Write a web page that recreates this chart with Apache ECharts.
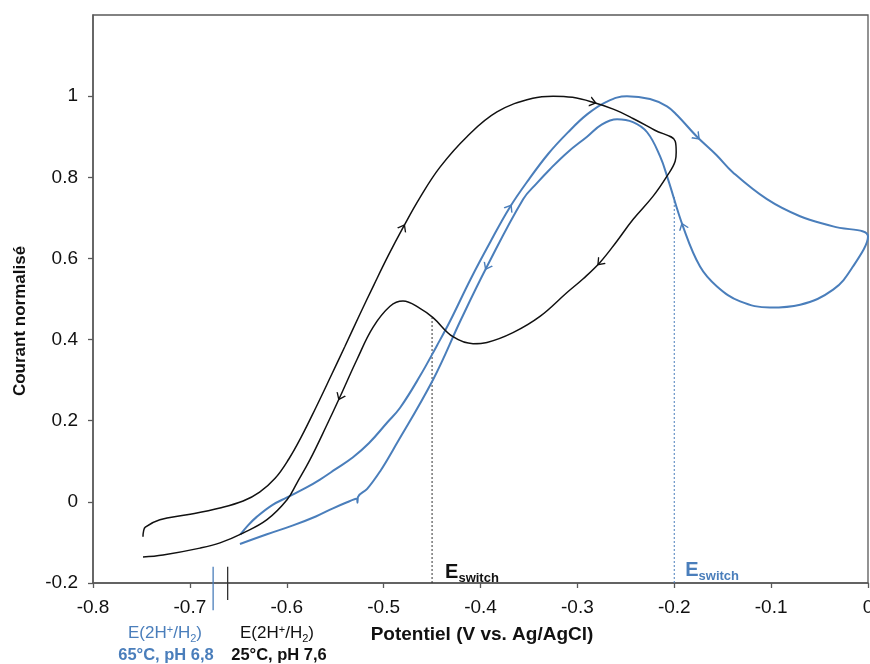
<!DOCTYPE html>
<html><head><meta charset="utf-8">
<script src="https://cdn.jsdelivr.net/npm/echarts@6/dist/echarts.min.js"></script>
<style>html,body{margin:0;padding:0;background:#fff;overflow:hidden}#c{width:870px;height:664px}</style>
</head><body><div id="c"></div>
<script>
// ---- data ----
const blackPotential = [-0.7484,-0.7478,-0.746,-0.731,-0.703,-0.669,-0.645,-0.628,-0.612,-0.598,-0.585,-0.57,-0.555,-0.54,-0.525,-0.51,-0.495,-0.48,-0.4625,-0.4418,-0.414,-0.383,-0.346,-0.325,-0.305,-0.284,-0.263,-0.2426,-0.22,-0.199,
  -0.198,-0.199,-0.2075,-0.222,-0.2426,-0.26,-0.2767,-0.294,-0.3107,-0.3386,-0.3665,-0.3933,-0.4077,-0.4284,-0.449,-0.4625,-0.48,-0.4934,-0.511,-0.5275,-0.545,-0.5585,-0.576,-0.5894,-0.5997,-0.6204,-0.6452,-0.6689,-0.6896,-0.7277,-0.7484];
const blackCurrent = [-0.086,-0.072,-0.062,-0.044,-0.032,-0.015,0.002,0.024,0.058,0.105,0.16,0.232,0.307,0.383,0.46,0.535,0.608,0.676,0.75,0.825,0.9,0.961,0.995,1.0,0.997,0.985,0.968,0.945,0.916,0.889,
  0.862,0.84,0.803,0.753,0.696,0.64,0.59,0.55,0.516,0.457,0.417,0.393,0.39,0.407,0.454,0.477,0.495,0.482,0.43,0.351,0.259,0.19,0.104,0.047,0.005,-0.044,-0.077,-0.101,-0.114,-0.131,-0.136];
const bluePotential = [-0.648,-0.64,-0.631,-0.615,-0.5997,-0.58,-0.5657,-0.55,-0.5316,-0.515,-0.4965,-0.483,-0.4625,-0.445,-0.4315,-0.41,-0.39,-0.37,-0.35,-0.33,-0.31,-0.29,-0.27,-0.2488,-0.225,-0.2075,-0.197,-0.1765,-0.1565,-0.1394,-0.1043,-0.0702,-0.036,0,
  -0.0155,-0.036,-0.07,-0.1012,-0.132,-0.1559,-0.1734,-0.191,-0.2064,-0.2147,-0.228,-0.2426,-0.259,-0.275,-0.29,-0.31,-0.3283,-0.342,-0.356,-0.3933,-0.42,-0.449,-0.4903,-0.5037,-0.517,-0.5265,-0.527,-0.5275,-0.5378,-0.5523,-0.57,-0.5935,-0.6204,-0.6483];
const blueCurrent = [-0.081,-0.058,-0.037,-0.008,0.011,0.035,0.055,0.08,0.11,0.145,0.195,0.232,0.31,0.385,0.445,0.55,0.64,0.725,0.795,0.858,0.91,0.955,0.986,1.0,0.993,0.975,0.953,0.9,0.855,0.812,0.746,0.704,0.679,0.654,
  0.58,0.523,0.486,0.479,0.494,0.531,0.58,0.679,0.795,0.852,0.911,0.936,0.943,0.93,0.9,0.862,0.82,0.785,0.746,0.58,0.45,0.301,0.128,0.075,0.032,0.012,-0.002,0.008,-0.001,-0.016,-0.036,-0.058,-0.08,-0.104];
const blackArrowIdx = [17, 25, 36, 50];
const blueArrowIdx = [17, 27, 41, 53];
const switchBlack = [-0.45, 0.454];   // potential, current where it meets the curve
const switchBlue = [-0.2, 0.755];
const refBlue = [-0.676, -0.16, -0.267];   // E(2H+/H2) 65°C marker
const refBlack = [-0.661, -0.16, -0.242];  // E(2H+/H2) 25°C marker

const BLUE = '#4a7ebb', BLACK = '#111111', AXIS = '#595959';
const FONT = '"Liberation Sans", Arial, sans-serif';

function pairs(xs, ys) { return xs.map((x, i) => [x, ys[i]]); }

const chart = echarts.init(document.getElementById('c'), null, {renderer: 'canvas'});

const baseOption = {
  animation: false,
  backgroundColor: '#fff',
  grid: {left: 93, right: 2, top: 15, bottom: 81, show: true, borderColor: AXIS, borderWidth: 1.3,
         containLabel: false, outerBoundsMode: 'none'},
  xAxis: {
    type: 'value', min: -0.8, max: 0, interval: 0.1,
    axisLine: {show: true, onZero: false, lineStyle: {color: AXIS, width: 1.5}},
    axisTick: {show: true, inside: false, length: 5, lineStyle: {color: AXIS, width: 1.3}},
    axisLabel: {color: '#111', fontSize: 19, fontFamily: FONT, margin: 15, hideOverlap: false},
    splitLine: {show: false}
  },
  yAxis: {
    type: 'value', min: -0.2, max: 1.2, interval: 0.2,
    axisLine: {show: true, onZero: false, lineStyle: {color: AXIS, width: 1.5}},
    axisTick: {show: true, inside: false, length: 5, lineStyle: {color: AXIS, width: 1.3}},
    axisLabel: {color: '#111', fontSize: 19, fontFamily: FONT, margin: 15, showMaxLabel: false},
    splitLine: {show: false}
  },
  series: [
    {name: 'switchBlack', type: 'line', data: [[switchBlack[0], -0.2], [switchBlack[0], switchBlack[1]]],
     showSymbol: false, lineStyle: {color: '#333', width: 1, type: [2, 2]}, z: 1},
    {name: 'switchBlue', type: 'line', data: [[switchBlue[0], -0.2], [switchBlue[0], switchBlue[1]]],
     showSymbol: false, lineStyle: {color: BLUE, width: 1, type: [2, 2]}, z: 1},
    {name: 'refBlue', type: 'line', clip: false, data: [[refBlue[0], refBlue[1]], [refBlue[0], refBlue[2]]],
     showSymbol: false, lineStyle: {color: BLUE, width: 1.3}},
    {name: 'refBlack', type: 'line', clip: false, data: [[refBlack[0], refBlack[1]], [refBlack[0], refBlack[2]]],
     showSymbol: false, lineStyle: {color: '#333', width: 1.3}},
    {name: 'black', type: 'line', data: pairs(blackPotential, blackCurrent), showSymbol: false, smooth: 0.4,
     lineStyle: {color: BLACK, width: 1.5}, z: 3},
    {name: 'blue', type: 'line', data: pairs(bluePotential, blueCurrent), showSymbol: false, smooth: 0.4,
     lineStyle: {color: BLUE, width: 2}, z: 2}
  ]
};
chart.setOption(baseOption);

function arrows(xs, ys, idx) {
  return idx.map(i => {
    const p0 = chart.convertToPixel({gridIndex: 0}, [xs[i - 1], ys[i - 1]]);
    const p1 = chart.convertToPixel({gridIndex: 0}, [xs[i + 1], ys[i + 1]]);
    const ang = Math.atan2(-(p1[1] - p0[1]), p1[0] - p0[0]) * 180 / Math.PI;
    return {coord: [xs[i], ys[i]], symbolRotate: ang + 90};
  });
}
const chevron = 'path://M0,0L5,6L10,0';
const sw1 = chart.convertToPixel({gridIndex: 0}, [switchBlack[0], -0.2]);
const sw2 = chart.convertToPixel({gridIndex: 0}, [switchBlue[0], -0.2]);

chart.setOption({
  series: [{}, {}, {}, {},
    {markPoint: {symbol: chevron, symbolSize: [9, 6], label: {show: false}, silent: true,
      itemStyle: {color: 'none', borderColor: BLACK, borderWidth: 1.2},
      data: arrows(blackPotential, blackCurrent, blackArrowIdx)}},
    {markPoint: {symbol: chevron, symbolSize: [9, 6], label: {show: false}, silent: true,
      itemStyle: {color: 'none', borderColor: BLUE, borderWidth: 1.3},
      data: arrows(bluePotential, blueCurrent, blueArrowIdx)}}
  ],
  graphic: [
    {type: 'text', x: 20, y: 321, rotation: Math.PI / 2,
     style: {text: 'Courant normalisé', font: 'bold 17px ' + FONT, fill: '#111', align: 'center', verticalAlign: 'middle'}},
    {type: 'text', x: 482, y: 635,
     style: {text: 'Potentiel (V vs. Ag/AgCl)', font: 'bold 19px ' + FONT, fill: '#111', align: 'center', verticalAlign: 'middle'}},
    {type: 'text', x: sw1[0] + 13, y: 572,
     style: {text: '{e|E}{s|switch}', fill: '#111', align: 'left', verticalAlign: 'middle',
       rich: {e: {fontSize: 20, fontWeight: 'bold', fontFamily: FONT, fill: '#111'},
              s: {fontSize: 13, fontWeight: 'bold', fontFamily: FONT, fill: '#111', verticalAlign: 'bottom', padding: [0, 0, -3, 0]}}}},
    {type: 'text', x: sw2[0] + 11, y: 570,
     style: {text: '{e|E}{s|switch}', fill: BLUE, align: 'left', verticalAlign: 'middle',
       rich: {e: {fontSize: 20, fontWeight: 'bold', fontFamily: FONT, fill: BLUE},
              s: {fontSize: 13, fontWeight: 'bold', fontFamily: FONT, fill: BLUE, verticalAlign: 'bottom', padding: [0, 0, -3, 0]}}}},
    {type: 'text', x: 165, y: 633,
     style: {text: '{a|E(2H}{p|+}{a|/H}{b|2}{a|)}', fill: BLUE, align: 'center', verticalAlign: 'middle',
       rich: {a: {fontSize: 17, fontFamily: FONT, fill: BLUE},
              p: {fontSize: 11, fontFamily: FONT, fill: BLUE, verticalAlign: 'top'},
              b: {fontSize: 11, fontFamily: FONT, fill: BLUE, verticalAlign: 'bottom', padding: [0, 0, -3, 0]}}}},
    {type: 'text', x: 166, y: 655,
     style: {text: '65°C, pH 6,8', font: 'bold 16.5px ' + FONT, fill: BLUE, align: 'center', verticalAlign: 'middle'}},
    {type: 'text', x: 277, y: 633,
     style: {text: '{a|E(2H}{p|+}{a|/H}{b|2}{a|)}', fill: '#111', align: 'center', verticalAlign: 'middle',
       rich: {a: {fontSize: 17, fontFamily: FONT, fill: '#111'},
              p: {fontSize: 11, fontFamily: FONT, fill: '#111', verticalAlign: 'top'},
              b: {fontSize: 11, fontFamily: FONT, fill: '#111', verticalAlign: 'bottom', padding: [0, 0, -3, 0]}}}},
    {type: 'text', x: 279, y: 655,
     style: {text: '25°C, pH 7,6', font: 'bold 16.5px ' + FONT, fill: '#111', align: 'center', verticalAlign: 'middle'}}
  ]
});
</script></body></html>
